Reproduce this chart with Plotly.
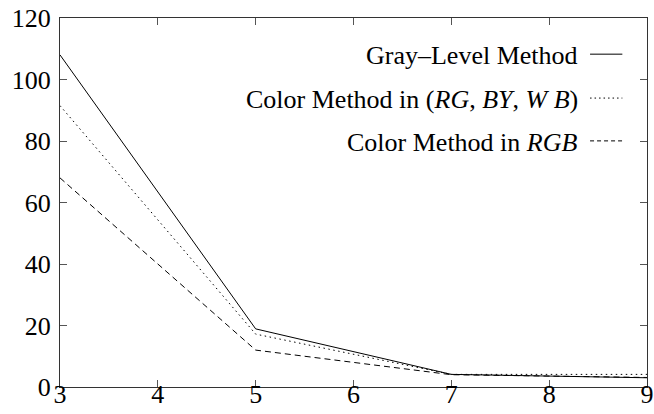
import plotly.graph_objects as go

x_vals = [3, 5, 7, 9]
gray_level = [108, 18.9, 4.1, 3.0]
color_rgbywb = [91.5, 17.2, 4.1, 4.1]
color_rgb = [68, 12.0, 4.0, 3.1]

series_names = [
    "Gray–Level Method",
    "Color Method in (<i>RG</i>, <i>BY</i>, <i>W B</i>)",
    "Color Method in <i>RGB</i>",
]
dashes = ["solid", "1.5px,3.5px", "6px,4px"]
series = [gray_level, color_rgbywb, color_rgb]

x_ticks = [3, 4, 5, 6, 7, 8, 9]
y_ticks = [0, 20, 40, 60, 80, 100, 120]

font_family = "Liberation Serif, Times New Roman, serif"

fig = go.Figure()
for name, ys, d in zip(series_names, series, dashes):
    fig.add_trace(go.Scatter(x=x_vals, y=ys, mode="lines", name=name,
                             line=dict(color="black", width=1, dash=d),
                             showlegend=False, cliponaxis=False))

# custom legend: right-aligned text with sample line on the right
legend_y = [0.902, 0.783, 0.667]
legend_dash = ["solid", "1.5px,3px", "4px,3px"]
for name, d, ly in zip(series_names, legend_dash, legend_y):
    fig.add_annotation(xref="paper", yref="paper", x=0.886, y=ly - 0.004, text=name,
                       showarrow=False, xanchor="right", yanchor="middle",
                       font=dict(family=font_family, size=26, color="black"))
    fig.add_shape(type="line", xref="paper", yref="paper",
                  x0=0.903, x1=0.958, y0=ly, y1=ly,
                  line=dict(color="black", width=1, dash=d))

axis_common = dict(showline=True, linecolor="#333", linewidth=1, mirror="ticks",
                   ticks="inside", ticklen=7, tickcolor="#555", showgrid=False,
                   zeroline=False, automargin=False,
                   tickfont=dict(family=font_family, size=26, color="black"))

fig.update_layout(
    width=654, height=414,
    margin=dict(l=60, r=7, t=18, b=27),
    plot_bgcolor="white", paper_bgcolor="white",
    xaxis=dict(range=[3, 9], tickvals=x_ticks, ticklabelstandoff=-16, **axis_common),
    yaxis=dict(range=[0, 120], tickvals=y_ticks, ticklabelstandoff=3, **axis_common),
    font=dict(family=font_family, color="black"),
)

fig.write_html("out.html", config={"displayModeBar": False},
               post_script="document.body.style.margin='0';document.body.style.overflow='hidden';")
